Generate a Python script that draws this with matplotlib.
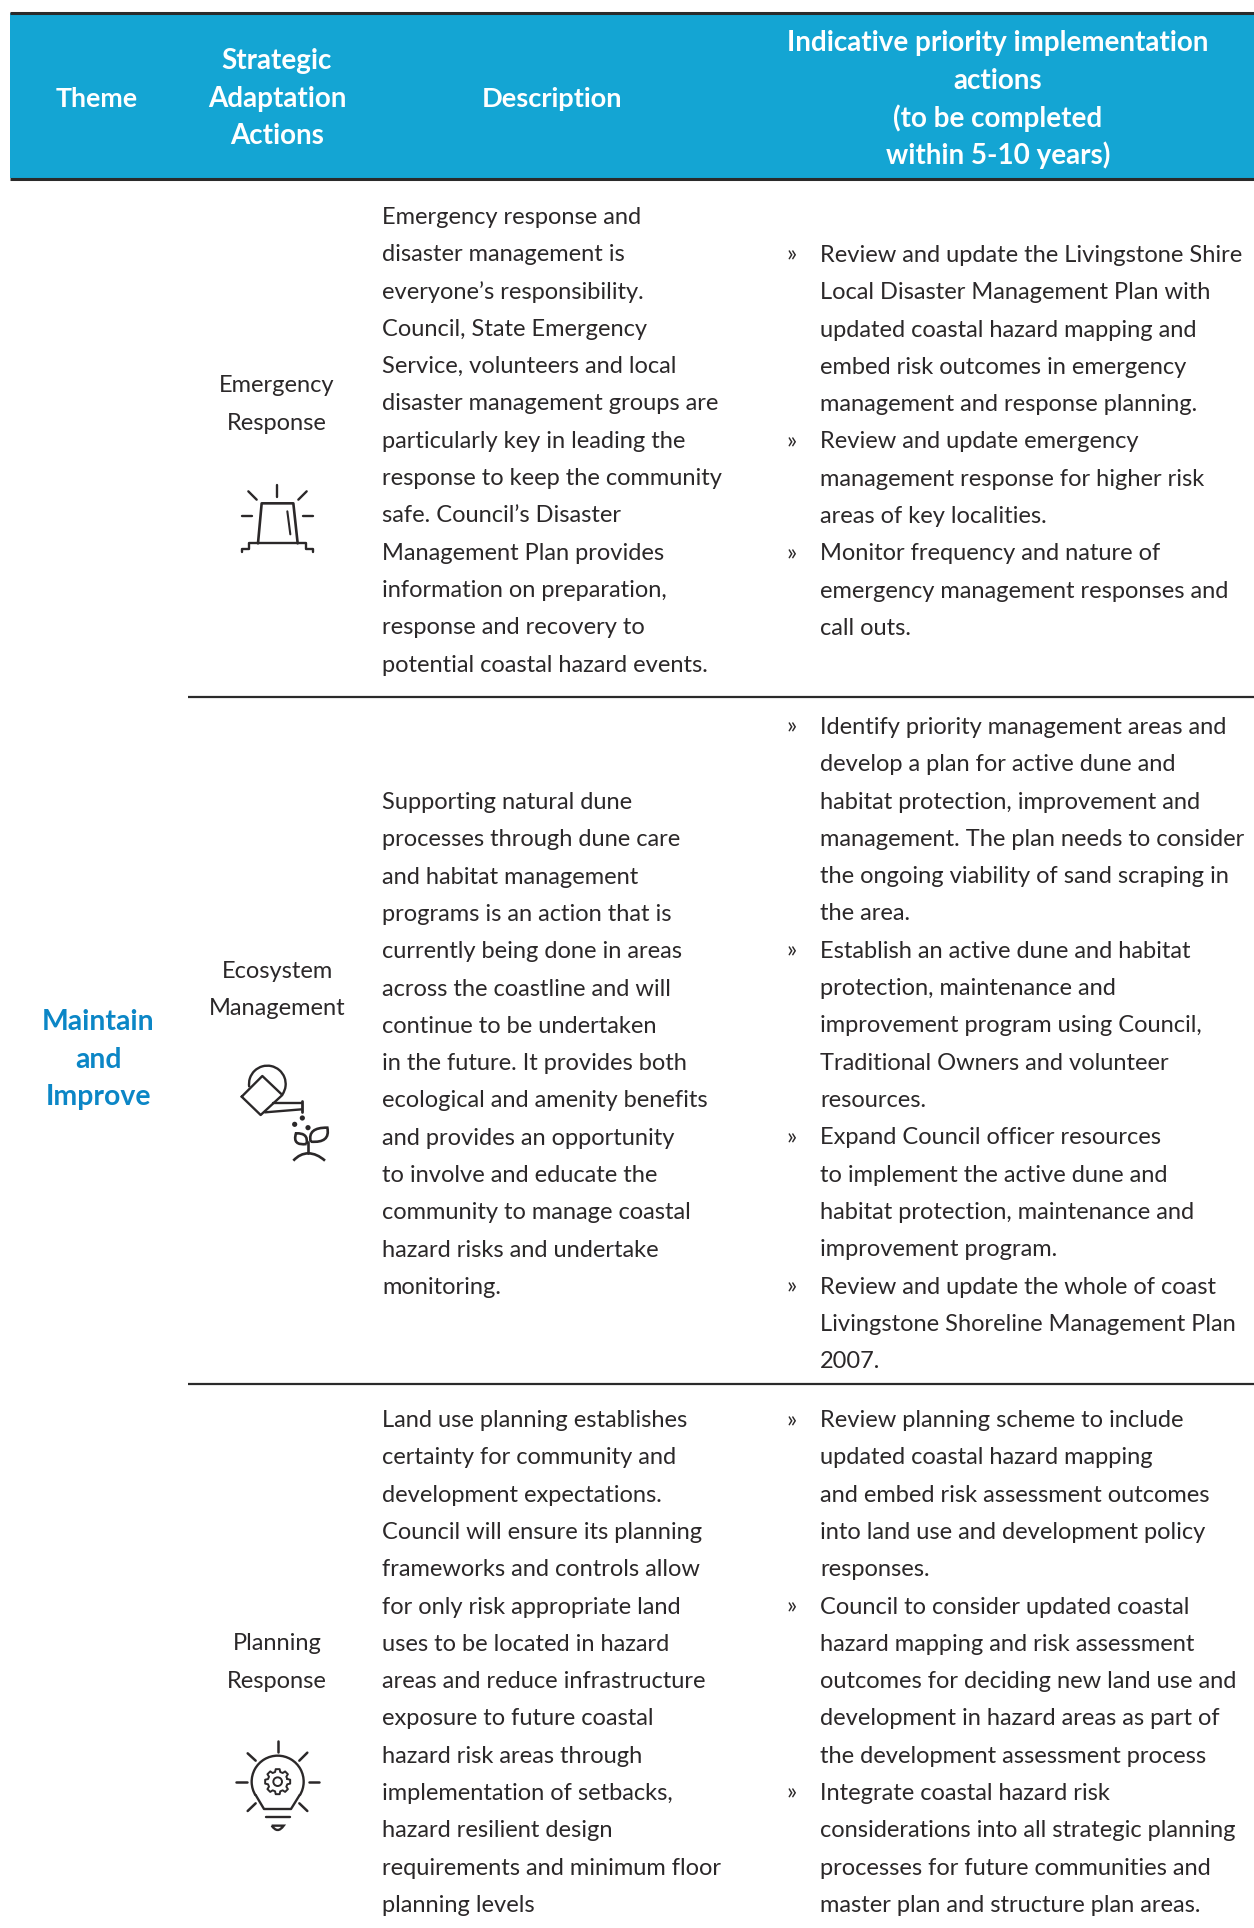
import numpy as np
import matplotlib
matplotlib.use("Agg")
import matplotlib.pyplot as plt
from matplotlib.patches import Arc, Circle, PathPatch, Rectangle
from matplotlib.path import Path

FONT = "Lato"
DARK = "#2b2829"
BLUE = "#14a5d3"
THEME_BLUE = "#0b86c6"
PITCH = 37.3

theme = ["Maintain", "and", "Improve"]
head_strategic = ["Strategic", "Adaptation", "Actions"]
head_actions = ["Indicative priority implementation", "actions", "(to be completed", "within 5-10 years)"]

names = [["Emergency", "Response"], ["Ecosystem", "Management"], ["Planning", "Response"]]

desc_1 = ["Emergency response and", "disaster management is", "everyone\u2019s responsibility.",
          "Council, State Emergency", "Service, volunteers and local",
          "disaster management groups are", "particularly key in leading the",
          "response to keep the community", "safe. Council\u2019s Disaster",
          "Management Plan provides", "information on preparation,",
          "response and recovery to", "potential coastal hazard events."]
desc_2 = ["Supporting natural dune", "processes through dune care", "and habitat management",
          "programs is an action that is", "currently being done in areas",
          "across the coastline and will", "continue to be undertaken",
          "in the future. It provides both", "ecological and amenity benefits",
          "and provides an opportunity", "to involve and educate the",
          "community to manage coastal", "hazard risks and undertake", "monitoring."]
desc_3 = ["Land use planning establishes", "certainty for community and",
          "development expectations.", "Council will ensure its planning",
          "frameworks and controls allow", "for only risk appropriate land",
          "uses to be located in hazard", "areas and reduce infrastructure",
          "exposure to future coastal", "hazard risk areas through",
          "implementation of setbacks,", "hazard resilient design",
          "requirements and minimum floor", "planning levels"]

act_1 = ["Review and update the Livingstone Shire", "Local Disaster Management Plan with",
         "updated coastal hazard mapping and", "embed risk outcomes in emergency",
         "management and response planning.", "Review and update emergency",
         "management response for higher risk", "areas of key localities.",
         "Monitor frequency and nature of", "emergency management responses and", "call outs."]
bul_1 = [0, 5, 8]
act_2 = ["Identify priority management areas and", "develop a plan for active dune and",
         "habitat protection, improvement and", "management. The plan needs to consider",
         "the ongoing viability of sand scraping in", "the area.",
         "Establish an active dune and habitat", "protection, maintenance and",
         "improvement program using Council,", "Traditional Owners and volunteer", "resources.",
         "Expand Council officer resources", "to implement the active dune and",
         "habitat protection, maintenance and", "improvement program.",
         "Review and update the whole of coast", "Livingstone Shoreline Management Plan", "2007."]
bul_2 = [0, 6, 11, 15]
act_3 = ["Review planning scheme to include", "updated coastal hazard mapping",
         "and embed risk assessment outcomes", "into land use and development policy", "responses.",
         "Council to consider updated coastal", "hazard mapping and risk assessment",
         "outcomes for deciding new land use and", "development in hazard areas as part of",
         "the development assessment process", "Integrate coastal hazard risk",
         "considerations into all strategic planning", "processes for future communities and",
         "master plan and structure plan areas."]
bul_3 = [0, 5, 10]

fig = plt.figure(figsize=(12.54, 19.28), dpi=100)
ax = fig.add_axes([0, 0, 1, 1])
ax.set_xlim(0, 1254)
ax.set_ylim(1928, 0)
ax.axis("off")


def txt(x, y, s, size=17.0, color=DARK, ha="left", weight="normal"):
    ax.text(x, y, s, fontsize=size, color=color, ha=ha, va="center_baseline",
            family=FONT, fontweight=weight)


def block(x, y0, lines):
    for i, s in enumerate(lines):
        txt(x, y0 + i * PITCH, s)


def actions(y0, lines, bullets):
    block(820, y0, lines)
    for i in bullets:
        txt(787, y0 + i * PITCH, "\u00bb", size=17)


# header band and rules
ax.add_patch(Rectangle((10, 13), 1244, 165, color=BLUE, lw=0))
ax.plot([10, 1254], [12.5, 12.5], color="#2a2a2a", lw=2.2, solid_capstyle="butt")
ax.plot([10, 1254], [178.5, 178.5], color="#2a2a2a", lw=2.2, solid_capstyle="butt")
ax.plot([188, 1254], [697, 697], color="#2a2a2a", lw=1.6, solid_capstyle="butt")
ax.plot([188, 1254], [1384, 1384], color="#2a2a2a", lw=1.6, solid_capstyle="butt")

hs = 20.0
txt(97, 97, "Theme", 19.2, "white", "center", "bold")
for i, s in enumerate(head_strategic):
    txt(277, 59 + i * PITCH, s, hs, "white", "center", "bold")
txt(552, 97, "Description", 19.6, "white", "center", "bold")
for i, s in enumerate(head_actions):
    txt(998, 41 + i * PITCH, s, hs, "white", "center", "bold")

for i, s in enumerate(theme):
    txt(98, 1020 + i * PITCH, s, 20.4, THEME_BLUE, "center", "bold")

for y0, pair in zip([384, 969, 1642], names):
    for i, s in enumerate(pair):
        txt(277, y0 + i * PITCH, s, ha="center")

block(382, 215.5, desc_1)
block(382, 800.5, desc_2)
block(382, 1418.5, desc_3)
actions(253.5, act_1, bul_1)
actions(725.5, act_2, bul_2)
actions(1418.5, act_3, bul_3)


# icons, coordinates measured on 3x crops
def icon_line(ox, oy, pts, lw=1.7, closed=False):
    p = np.array(pts, dtype=float) / 3 + [ox, oy]
    if closed:
        p = np.vstack([p, p[0]])
    ax.plot(p[:, 0], p[:, 1], color=DARK, lw=lw, solid_joinstyle="round", solid_capstyle="round")


def curve(ox, oy, pts, lw=1.7):
    p = np.array(pts, dtype=float) / 3 + [ox, oy]
    codes = [Path.MOVETO] + [Path.CURVE3] * (len(p) - 1)
    ax.add_patch(PathPatch(Path(p, codes), fc="none", ec=DARK, lw=lw))


# alarm
ox, oy = 190, 350
icon_line(ox, oy, [(204, 580), (215, 460), (310, 460), (323, 580)], 1.9)
icon_line(ox, oy, [(155, 607), (155, 597), (178, 597), (178, 580), (347, 580), (347, 597), (370, 597), (370, 607)], 1.7)
icon_line(ox, oy, [(292, 484), (301, 553)], 1.5)
for seg in [[(262, 405), (262, 442)], [(175, 424), (200, 449)], [(350, 424), (325, 449)],
            [(155, 498), (187, 498)], [(338, 498), (370, 498)]]:
    icon_line(ox, oy, seg, 1.7)

# watering can
ox, oy = 190, 940
icon_line(ox, oy, [(155, 470), (217, 408), (277, 465), (212, 525)], 1.7, closed=True)
ax.add_patch(Arc((ox + 232 / 3, oy + 432 / 3), 110 / 3, 110 / 3, theta1=170, theta2=395, color=DARK, lw=1.7))
icon_line(ox, oy, [(250, 490), (335, 490)], 1.7)
icon_line(ox, oy, [(225, 517), (335, 508)], 1.7)
icon_line(ox, oy, [(335, 482), (335, 515)], 2.0)
for dx, dy in [(337, 534), (314, 553), (354, 563)]:
    ax.add_patch(Circle((ox + dx / 3, oy + dy / 3), 2.6, color=DARK, lw=0))
icon_line(ox, oy, [(355, 605), (355, 640)], 1.9)
curve(ox, oy, [(310, 662), (330, 640), (355, 640), (380, 640), (405, 662)], 1.9)
curve(ox, oy, [(362, 605), (352, 562), (412, 563), (422, 610), (362, 605)], 1.9)
curve(ox, oy, [(350, 612), (306, 618), (318, 580), (356, 578), (350, 612)], 1.9)

# bulb
ox, oy = 190, 1620
ax.add_patch(Arc((ox + 263 / 3, oy + 485 / 3), 156 / 3, 156 / 3, theta1=148, theta2=392, color=DARK, lw=1.7))
icon_line(ox, oy, [(197, 525), (222, 567), (303, 567), (329, 525)], 1.7)
icon_line(ox, oy, [(227, 592), (300, 592)], 1.7)
curve(ox, oy, [(245, 617), (263, 617), (281, 617), (263, 643), (245, 617)])
for seg in [[(263, 362), (263, 395)], [(173, 400), (197, 422)], [(352, 398), (328, 422)],
            [(137, 486), (170, 486)], [(356, 486), (388, 486)], [(173, 573), (197, 550)], [(352, 573), (328, 550)]]:
    icon_line(ox, oy, seg, 1.8)
gear = []
for k in range(8):
    a = np.radians(k * 45)
    for da, r in [(-15, 30), (-9, 38), (9, 38), (15, 30)]:
        gear.append((263 + r * np.cos(a + np.radians(da)), 485 + r * np.sin(a + np.radians(da))))
icon_line(ox, oy, gear, 1.4, closed=True)
ax.add_patch(Circle((ox + 263 / 3, oy + 485 / 3), 13 / 3, fc="none", ec=DARK, lw=1.4))

fig.savefig("out.png", dpi=100)
